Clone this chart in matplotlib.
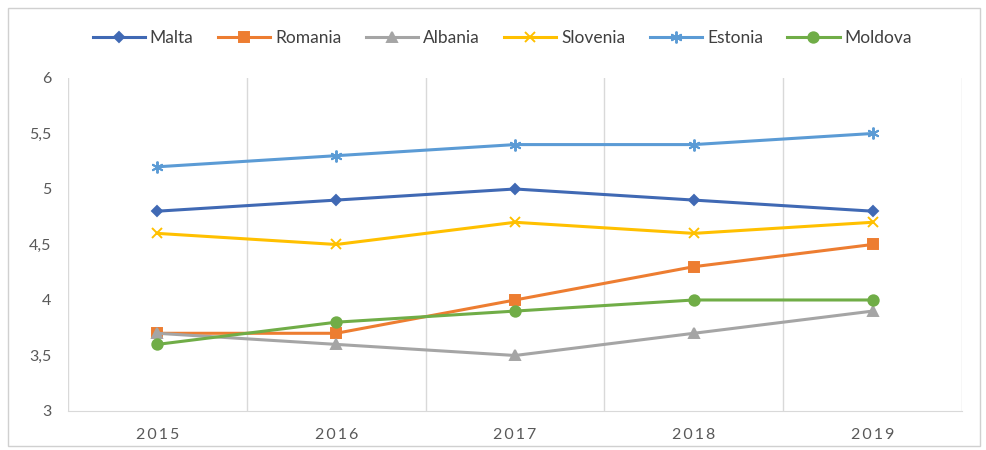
import matplotlib
matplotlib.use("Agg")
from matplotlib import pyplot as plt
from matplotlib.patches import Rectangle
import numpy as np

plt.rcParams['font.family'] = ['Lato', 'DejaVu Sans']

years = ['2015', '2016', '2017', '2018', '2019']
malta = [4.8, 4.9, 5.0, 4.9, 4.8]
romania = [3.7, 3.7, 4.0, 4.3, 4.5]
albania = [3.7, 3.6, 3.5, 3.7, 3.9]
slovenia = [4.6, 4.5, 4.7, 4.6, 4.7]
estonia = [5.2, 5.3, 5.4, 5.4, 5.5]
moldova = [3.6, 3.8, 3.9, 4.0, 4.0]

y_ticks = [3, 3.5, 4, 4.5, 5, 5.5, 6]

fig = plt.figure(figsize=(9.87, 4.5), dpi=100)
ax = fig.add_axes([0.0689, 0.0867, 0.9058, 0.74])

# outer frame of the chart
fig.patches.append(Rectangle((0.008, 0.01), 0.985, 0.972, transform=fig.transFigure,
                             fill=False, edgecolor='#d0d0d0', linewidth=1))

x = np.arange(len(years))
series = [
    ('Malta', malta, '#4069B4', 'D', 5.5),
    ('Romania', romania, '#ED7D31', 's', 6.5),
    ('Albania', albania, '#A5A5A5', '^', 6.5),
    ('Slovenia', slovenia, '#FFC000', 'x', 6.5),
    ('Estonia', estonia, '#5B9BD5', (6, 2, 0), 8.5),
    ('Moldova', moldova, '#70AD47', 'o', 7.5),
]
for name, vals, col, mk, ms in series:
    ax.plot(x, vals, color=col, linewidth=2.2, marker=mk, markersize=ms,
            markeredgewidth=1.4, label=name)

ax.set_xlim(-0.5, len(years) - 0.5)
ax.set_ylim(3, 6)

# vertical separators between categories
for b in np.arange(-0.5, len(years), 1.0):
    ax.axvline(b, color='#d9d9d9', linewidth=1, zorder=0)

ax.set_xticks(x)
ax.set_xticklabels(['\u2009'.join(y) for y in years])
ax.set_yticks(y_ticks)
ax.set_yticklabels([('%g' % t).replace('.', ',') for t in y_ticks])
ax.tick_params(axis='both', length=0, labelsize=11.5, labelcolor='#595959')
ax.tick_params(axis='x', pad=12)
ax.tick_params(axis='y', pad=12)

for s in ['top', 'right', 'left']:
    ax.spines[s].set_visible(False)
ax.spines['bottom'].set_color('#d9d9d9')

fig.legend(loc='center', bbox_to_anchor=(0.509, 0.915), ncol=6, frameon=False,
           fontsize=12.5, handlelength=3.0, columnspacing=1.4, handletextpad=0.3,
           labelcolor='#404040')

fig.savefig('out.png', dpi=100)
